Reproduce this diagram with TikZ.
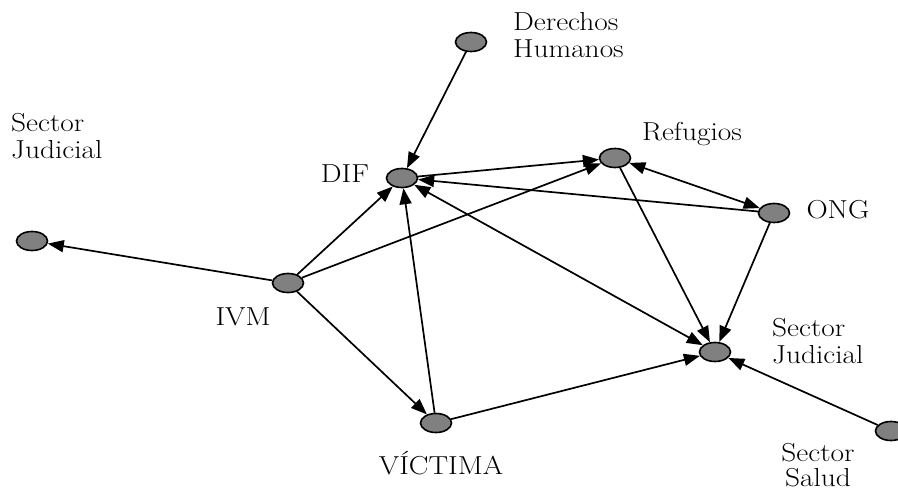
\documentclass[tikz,border=0pt]{standalone}
\usepackage{fontspec}
\setmainfont{Latin Modern Roman}[FakeStretch=1.13]
\usetikzlibrary{shapes.geometric,arrows.meta}
\begin{document}
\begin{tikzpicture}[x=1pt,y=-1pt,
  actor/.style={ellipse,draw=black,line width=1.6pt,fill=black!50,minimum width=31pt,minimum height=19pt,inner sep=0pt},
  lbl/.style={inner sep=0pt,font=\fontsize{26}{27}\selectfont},
  link/.style={line width=1.7pt,-{Triangle[length=16pt,width=12pt]}},
  blink/.style={line width=1.7pt,{Triangle[length=16pt,width=12pt]}-{Triangle[length=16pt,width=12pt]}}]
\useasboundingbox (0,0) rectangle (898,494);
% nodes
\node[actor] (dh) at (471,42) {};
\node[actor] (dif) at (402,178) {};
\node[actor] (ref) at (615,158) {};
\node[actor] (ong) at (774,213) {};
\node[actor] (sjl) at (32,241) {};
\node[actor] (ivm) at (288,283) {};
\node[actor] (sjr) at (715,352) {};
\node[actor] (vic) at (436,423) {};
\node[actor] (ss) at (891,431) {};
% labels
\node[lbl,anchor=west,align=left] (ldh) at (513,35) {Derechos\\Humanos};
\node[lbl] (ldif) at (345,174) {DIF};
\node[lbl] (lref) at (692,134) {Refugios};
\node[lbl] (long) at (838,210) {ONG};
\node[lbl,anchor=west,align=left] (lsjl) at (11,136) {Sector\\Judicial};
\node[lbl] (livm) at (243,317) {IVM};
\node[lbl,anchor=west,align=left] (lsjr) at (772,341) {Sector\\Judicial};
\node[lbl] (lvic) at (441,463) {VÍCTIMA};
\node[lbl,align=center,font=\fontsize{26}{25}\selectfont] (lss) at (818,465) {Sector\\Salud};
% edges
\draw[link] (dh) -- (dif);
\draw[link] (dif) -- (ref);
\draw[link] (ong) -- (dif);
\draw[blink] (ref) -- (ong);
\draw[blink] (dif) -- (sjr);
\draw[link] (ref) -- (sjr);
\draw[link] (ong) -- (sjr);
\draw[link] (ivm) -- (sjl);
\draw[link] (ivm) -- (dif);
\draw[link] (ivm) -- (ref);
\draw[link] (ivm) -- (vic);
\draw[link] (vic) -- (dif);
\draw[link] (vic) -- (sjr);
\draw[link] (ss) -- (sjr);
\end{tikzpicture}
\end{document}
